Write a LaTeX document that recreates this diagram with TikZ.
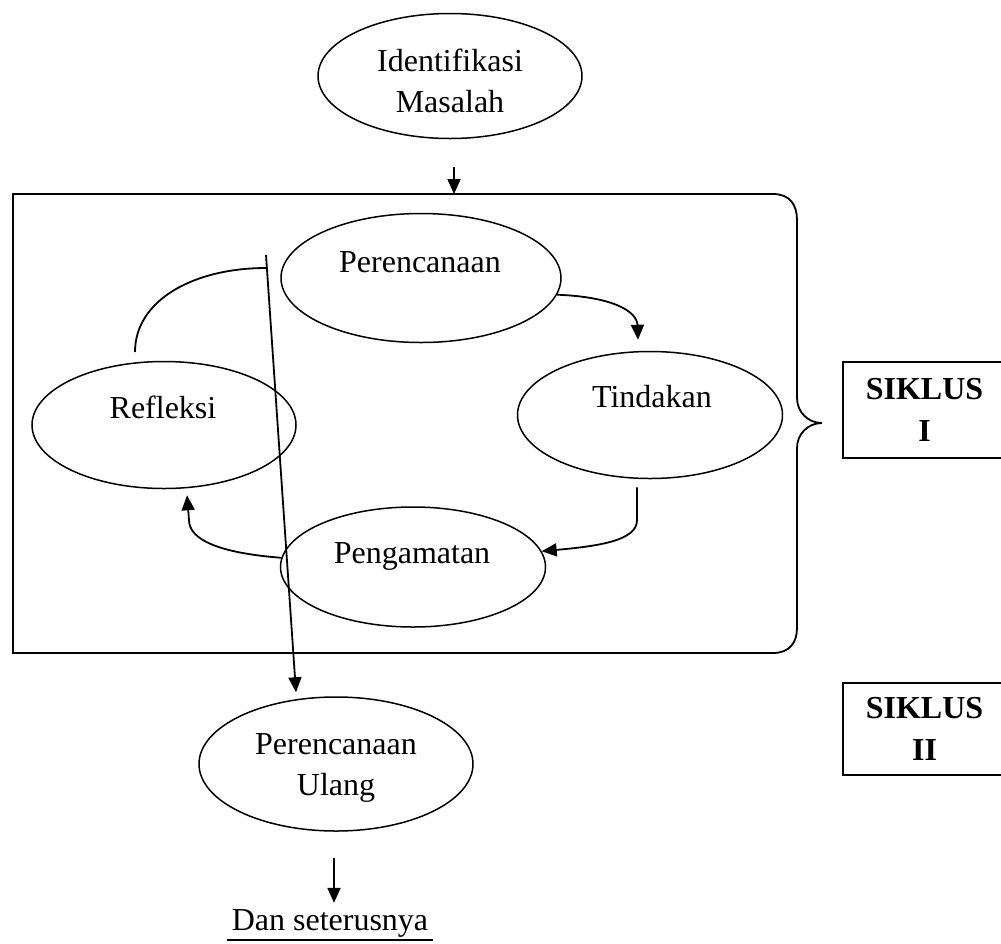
\documentclass[tikz,border=0pt]{standalone}
\usepackage{fontspec}
\setmainfont{Liberation Serif}
\usetikzlibrary{shapes.geometric,arrows.meta}
\begin{document}
\begin{tikzpicture}[x=1pt,y=-1pt,
  ell/.style={draw,ellipse,line width=1.5pt,inner sep=0pt},
  lbl/.style={font=\fontsize{32}{41}\selectfont,inner sep=0pt,align=center},
  conn/.style={line width=1.8pt},
  arr/.style={line width=1.8pt,-{Triangle[length=15pt,width=13pt]}},
  sik/.style={draw,line width=1.5pt,minimum width=163pt,inner sep=0pt,align=center,font=\fontsize{32}{42}\selectfont\bfseries}]
\useasboundingbox (0,0) rectangle (1001,943);

% ellipses
\node[ell,minimum width=264pt,minimum height=125pt] (idm) at (450,76) {};
\node[ell,minimum width=280pt,minimum height=129pt] (per) at (421,278) {};
\node[ell,minimum width=265pt,minimum height=127pt] (tin) at (650,415) {};
\node[ell,minimum width=264pt,minimum height=127pt] (ref) at (164,425) {};
\node[ell,minimum width=265pt,minimum height=120pt] (pen) at (413,567) {};
\node[ell,minimum width=274pt,minimum height=134pt] (pu) at (336,764) {};

% texts
\node[lbl] (tidm) at (450,81) {Identifikasi\\Masalah};
\node[lbl,anchor=base] (tper) at (420,272) {Perencanaan};
\node[lbl,anchor=base] (ttin) at (652,407) {Tindakan};
\node[lbl,anchor=base] (tref) at (163,418) {Refleksi};
\node[lbl,anchor=base] (tpen) at (412,563) {Pengamatan};
\node[lbl] (tpu) at (336,768) {Perencanaan\\Ulang};
\node[lbl,anchor=base] (dan) at (330,930) {Dan seterusnya};

% SIKLUS boxes
\node[sik,minimum height=96pt] (s1) at (924.5,410) {SIKLUS\\I};
\node[sik,minimum height=92pt] (s2) at (924.5,729) {SIKLUS\\II};

% frame with brace
\coordinate (ftop) at (454,194);
\draw[conn] (13,194) -- (773,194) .. controls (790,194) and (797,205) .. (797,220)
  -- (797,398) .. controls (797,412) and (808,423) .. (822,423)
  .. controls (808,423) and (797,434) .. (797,448)
  -- (797,628) .. controls (797,642) and (790,653) .. (773,653)
  -- (13,653) -- cycle;

% connectors
\draw[arr] ([xshift=4pt,yshift=-28pt]idm.south) -- (ftop);
\coordinate (ltop) at (266,255);
\draw[arr] (ltop) -- ([xshift=-40pt,yshift=4pt]pu.north);
\coordinate (arcs) at (135,352);
\coordinate (arce) at (266,268);
\draw[conn] (arcs) .. controls (135,300) and (194,268) .. (arce);
\draw[arr] (per.-7) .. controls (615,297) and (637,312) .. ([xshift=-12pt,yshift=11pt]tin.north);
\draw[arr] ([xshift=-13pt,yshift=-8pt]tin.south) -- ++(0,33) .. controls +(0,20) and (600,546) .. (pen.7);
\draw[arr] (pen.176) .. controls (220,553) and (189,540) .. (189,520) -- ([xshift=23pt,yshift=-6pt]ref.south);
\draw[arr] ([xshift=-2pt,yshift=-26pt]pu.south) -- ([xshift=4pt,yshift=6pt]dan.north);
\draw[line width=1.5pt] ([xshift=-5pt,yshift=-10pt]dan.base west) -- ([xshift=5pt,yshift=-10pt]dan.base east);
\end{tikzpicture}
\end{document}
